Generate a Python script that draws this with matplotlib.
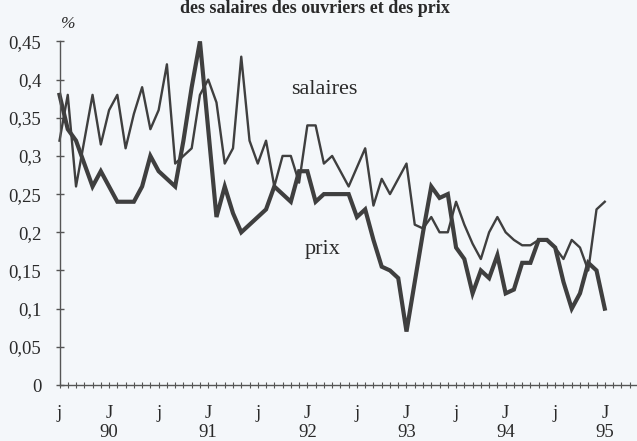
import matplotlib
matplotlib.use('Agg')
import matplotlib.pyplot as plt
import numpy as np

# valeurs mensuelles, juillet 1989 -> janvier 1995 (en %)
salaires = [0.32, 0.38, 0.26, 0.32, 0.38, 0.315, 0.36, 0.38, 0.31, 0.355,
            0.39, 0.335, 0.36, 0.42, 0.29, 0.30, 0.31, 0.38, 0.40, 0.37,
            0.29, 0.31, 0.43, 0.32, 0.29, 0.32, 0.26, 0.30, 0.30, 0.265,
            0.34, 0.34, 0.29, 0.30, 0.28, 0.26, 0.285, 0.31, 0.235, 0.27,
            0.25, 0.27, 0.29, 0.21, 0.205, 0.22, 0.20, 0.20, 0.24, 0.21,
            0.185, 0.165, 0.20, 0.22, 0.20, 0.19, 0.183, 0.183, 0.19, 0.19,
            0.18, 0.165, 0.19, 0.18, 0.15, 0.23, 0.24]
prix = [0.38, 0.335, 0.32, 0.29, 0.26, 0.28, 0.26, 0.24, 0.24, 0.24,
        0.26, 0.30, 0.28, 0.27, 0.26, 0.32, 0.39, 0.45, 0.335, 0.22,
        0.26, 0.225, 0.20, 0.21, 0.22, 0.23, 0.26, 0.25, 0.24, 0.28,
        0.28, 0.24, 0.25, 0.25, 0.25, 0.25, 0.22, 0.23, 0.19, 0.155,
        0.15, 0.14, 0.07, 0.135, 0.20, 0.26, 0.245, 0.25, 0.18, 0.165,
        0.12, 0.15, 0.14, 0.17, 0.12, 0.125, 0.16, 0.16, 0.19, 0.19,
        0.18, 0.135, 0.10, 0.12, 0.16, 0.15, 0.10]

x_labels = ['j', 'J\n90', 'j', 'J\n91', 'j', 'J\n92', 'j', 'J\n93',
            'j', 'J\n94', 'j', 'J\n95']
y_values = [0, 0.05, 0.1, 0.15, 0.2, 0.25, 0.3, 0.35, 0.4, 0.45]
y_labels = ['0', '0,05', '0,1', '0,15', '0,2', '0,25', '0,3', '0,35', '0,4', '0,45']

fond = '#f4f7fa'
gris = '#3f3f3f'
plt.rcParams['font.family'] = ['Liberation Serif', 'DejaVu Serif']

fig = plt.figure(figsize=(6.37, 4.41), dpi=100, facecolor=fond)
ax = fig.add_axes([59.5 / 637, 56 / 441, (637 - 59.5) / 637, (385 - 41.4) / 441])
ax.set_facecolor(fond)

mois = np.arange(len(prix))
ax.plot(mois, salaires, color=gris, lw=1.7, clip_on=False)
ax.plot(mois, prix, color=gris, lw=3.0, clip_on=False, solid_joinstyle='miter')

ax.set_xlim(0, 69.9)
ax.set_ylim(0, 0.45)
ax.set_yticks(y_values)
ax.set_yticklabels(y_labels)
ax.set_xticks(np.arange(0, 6 * len(x_labels), 6))
ax.set_xticklabels(x_labels, linespacing=1.15)
ax.set_xticks(np.arange(0, 70), minor=True)

for s in ['top', 'right']:
    ax.spines[s].set_visible(False)
for s in ['left', 'bottom']:
    ax.spines[s].set_color('#555555')
    ax.spines[s].set_linewidth(1.0)

ax.tick_params(axis='y', direction='inout', length=6, width=1, color='#555555',
               labelsize=13.5, labelcolor='#2a2a2a', pad=10)
ax.tick_params(axis='x', which='both', direction='inout', length=5, width=0.8,
               color='#555555', labelsize=13.5, labelcolor='#2a2a2a', pad=12)

ax.text(32.1, 0.387, 'salaires', fontsize=16, color='#2a2a2a', ha='center', va='center')
ax.text(31.9, 0.177, 'prix', fontsize=16, color='#2a2a2a', ha='center', va='center')

fig.text(68 / 637, 1 - 24 / 441, '%', fontsize=12.5, fontstyle='italic',
         color='#2a2a2a', ha='center', va='center')
fig.text(315 / 637, 1 - 13 / 441, 'des salaires des ouvriers et des prix',
         fontsize=13, fontweight='bold', color='#2a2a2a', ha='center', va='baseline')

fig.savefig('out.png', dpi=100, facecolor=fond)
